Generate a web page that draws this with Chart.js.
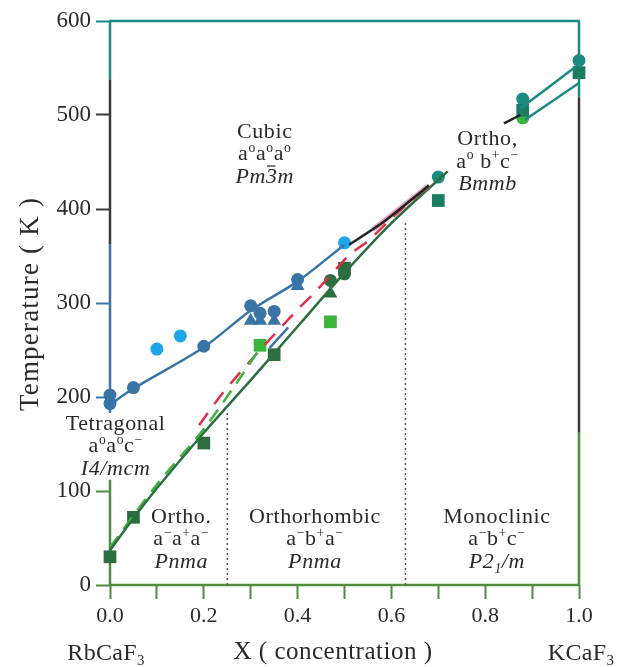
<!DOCTYPE html>
<html>
<head>
<meta charset="utf-8">
<script src="https://cdn.jsdelivr.net/npm/chart.js@4.4.1/dist/chart.umd.min.js"></script>
<style>
  body { margin: 0; background: #fff; }
  canvas { display: block; }
</style>
</head>
<body>
<canvas id="phaseChart" width="624" height="667"></canvas>
<script>
// measured points, X = K concentration, T = temperature (K)
const blueCircleX = [0, 0, 0.05, 0.2, 0.3, 0.32, 0.35, 0.4];
const blueCircleT = [193, 202, 210, 254, 297, 289, 291, 325];
const blueTriX = [0.3, 0.32, 0.35, 0.4];
const blueTriT = [281, 281, 281, 318];
const lightBlueX = [0.1, 0.15, 0.5];
const lightBlueT = [251, 265, 364];
const darkSqX = [0, 0.05, 0.2, 0.35, 0.5];
const darkSqT = [30, 72, 151, 245, 337];
const darkCircX = [0.47, 0.5];
const darkCircT = [324, 331];
const darkTriX = [0.47];
const darkTriT = [310];
const tealSqX = [0.7, 0.88, 1.0];
const tealSqT = [409, 505, 545];
const tealCircX = [0.7, 0.88, 1.0];
const tealCircT = [434, 517, 558];
const brightSqX = [0.32, 0.47];
const brightSqT = [255, 280];
const brightCircX = [0.88];
const brightCircT = [497];

// transition lines
const blueLineX = [0, 0.05, 0.2, 0.3, 0.4, 0.5];
const blueLineT = [192, 209, 253, 292, 323, 362];
const blueStubX = [0.34, 0.38];
const blueStubT = [252, 274];
const greenLineX = [0, 0.05, 0.1, 0.2, 0.3, 0.4, 0.5, 0.6, 0.72];
const greenLineT = [37, 71, 103, 162, 218, 275, 332, 385, 440];
const greenDashX = [0, 0.1, 0.2, 0.27, 0.32];
const greenDashT = [40, 107, 166, 215, 252];
const redDashX = [0.19, 0.24, 0.32, 0.4, 0.44, 0.51, 0.55, 0.6, 0.68];
const redDashT = [170, 204, 250, 293, 313, 351, 366, 390, 425];
const blackLineX = [0.51, 0.58, 0.68];
const blackLineT = [362, 385, 425];
const blackStubX = [0.84, 0.875];
const blackStubT = [491, 500];
const tealUpperX = [0.875, 1.0];
const tealUpperT = [507, 554];
const tealLowerX = [0.885, 1.0];
const tealLowerT = [495, 534];
const boundaryX = [0.25, 0.63];
const boundaryTopT = [183, 385];

const xTicks = [0, 0.2, 0.4, 0.6, 0.8, 1.0];
const yTicks = [0, 100, 200, 300, 400, 500, 600];

const BLUE = '#3a74a6';
const LIGHT_BLUE = '#1ea6e6';
const DARK_GREEN = '#2c6e40';
const AXIS_GREEN = '#4f8d3e';
const BRIGHT_GREEN = '#3cb53c';
const TEAL = '#1b8a80';
const RED = '#e0304a';
const GREY = '#3a3a3a';
const SERIF = '"Liberation Serif", "DejaVu Serif", serif';

function pts(xs, ts) {
  return xs.map((x, i) => ({ x: x, y: ts[i] }));
}

function markers(xs, ts, color, style, r) {
  return {
    data: pts(xs, ts), showLine: false, pointStyle: style,
    pointRadius: r, pointHoverRadius: r,
    backgroundColor: color, borderColor: color, borderWidth: 0, clip: false
  };
}

function line(xs, ts, color, width, dash, tension) {
  return {
    data: pts(xs, ts), showLine: true, pointRadius: 0,
    borderColor: color, borderWidth: width, borderDash: dash || [],
    tension: tension || 0, clip: false
  };
}

const datasets = [
  line(blueLineX, blueLineT, BLUE, 2.5, null, 0.3),
  line(blueStubX, blueStubT, BLUE, 2.5),
  line(blackLineX, blackLineT, '#222', 2.5, null, 0.2),
  line([0.56, 0.68], [378, 425], 'rgba(215,70,110,0.45)', 5),
  line(blackStubX, blackStubT, '#222', 2.5),
  line(greenLineX, greenLineT, DARK_GREEN, 2.5, null, 0.3),
  line(greenDashX, greenDashT, BRIGHT_GREEN, 2.5, [14, 9], 0.3),
  line(redDashX, redDashT, RED, 2.5, [15, 11], 0.3),
  line(tealUpperX, tealUpperT, TEAL, 2.5),
  line(tealLowerX, tealLowerT, TEAL, 2.5),
  line([boundaryX[0], boundaryX[0]], [0, boundaryTopT[0]], '#555', 1.5, [2, 3]),
  line([boundaryX[1], boundaryX[1]], [0, boundaryTopT[1]], '#555', 1.5, [2, 3]),
  markers(blueTriX, blueTriT, BLUE, 'triangle', 8),
  markers(blueCircleX, blueCircleT, BLUE, 'circle', 6.5),
  markers(lightBlueX, lightBlueT, LIGHT_BLUE, 'circle', 6.5),
  markers(darkSqX, darkSqT, DARK_GREEN, 'rect', 9),
  markers(darkTriX, darkTriT, DARK_GREEN, 'triangle', 8),
  markers(darkCircX, darkCircT, DARK_GREEN, 'circle', 6.5),
  markers(tealSqX, tealSqT, '#1b7c66', 'rect', 9),
  markers(tealCircX, tealCircT, TEAL, 'circle', 6.5),
  markers(brightSqX, brightSqT, BRIGHT_GREEN, 'rect', 9),
  markers(brightCircX, brightCircT, BRIGHT_GREEN, 'circle', 6.5)
];

// text with super/subscripts, centred at cx
function drawRich(ctx, parts, cx, cy, size, spacing) {
  const fontOf = (p) => (p.it ? 'italic ' : '') + ((p.sup || p.sub) ? size * 0.62 : size) + 'px ' + SERIF;
  ctx.letterSpacing = (spacing || 0) + 'px';
  let total = 0;
  parts.forEach(p => { ctx.font = fontOf(p); p.w = ctx.measureText(p.t).width; total += p.w; });
  let x = cx - total / 2;
  ctx.textBaseline = 'alphabetic';
  ctx.textAlign = 'left';
  parts.forEach(p => {
    ctx.font = fontOf(p);
    let y = cy;
    if (p.sup) y -= size * 0.38;
    if (p.sub) y += size * 0.22;
    ctx.fillText(p.t, x, y);
    if (p.bar) {
      ctx.fillRect(x + 1, cy - size * 0.78, p.w - 3, 1.2);
    }
    x += p.w;
  });
  ctx.letterSpacing = '0px';
}

const t = (s) => ({ t: s });
const sup = (s) => ({ t: s, sup: true });
const it = (s) => ({ t: s, it: true });

const phaseLabels = [
  { x: 0.33, y: 476, lines: [[t('Cubic')], [t('a'), sup('o'), t('a'), sup('o'), t('a'), sup('o')], [it('Pm'), { t: '3', it: true, bar: true }, it('m')]] },
  { x: 0.805, y: 468, lines: [[t('Ortho,')], [t('a'), sup('o'), t(' b'), sup('+'), t('c'), sup('\u2212')], [it('Bmmb')]] },
  { x: 0.012, y: 165, lines: [[t('Tetragonal')], [t('a'), sup('o'), t('a'), sup('o'), t('c'), sup('\u2212')], [it('I4/mcm')]] },
  { x: 0.152, y: 66, lines: [[t('Ortho.')], [t('a'), sup('\u2212'), t('a'), sup('+'), t('a'), sup('\u2212')], [it('Pnma')]] },
  { x: 0.437, y: 66, lines: [[t('Orthorhombic')], [t('a'), sup('\u2212'), t('b'), sup('+'), t('a'), sup('\u2212')], [it('Pnma')]] },
  { x: 0.825, y: 66, lines: [[t('Monoclinic')], [t('a'), sup('\u2212'), t('b'), sup('+'), t('c'), sup('\u2212')], [it('P2'), { t: '1', it: true, sub: true }, it('/m')]] }
];

// coloured frame segments: [from T, to T, colour]
const leftAxis = [[600, 538, TEAL], [538, 362, GREY], [362, 183, BLUE], [112, 0, AXIS_GREEN]];
const rightAxis = [[600, 519, TEAL], [519, 162, GREY], [162, 0, AXIS_GREEN]];

const framePlugin = {
  id: 'frame',
  beforeDatasetsDraw(chart) {
    const ctx = chart.ctx;
    const xs = chart.scales.x, ys = chart.scales.y;
    const a = chart.chartArea;
    ctx.save();
    ctx.lineWidth = 2.5;
    ctx.lineCap = 'butt';
    const seg = (x1, y1, x2, y2, c) => {
      ctx.strokeStyle = c; ctx.beginPath(); ctx.moveTo(x1, y1); ctx.lineTo(x2, y2); ctx.stroke();
    };
    seg(a.left - 1, a.top, a.right + 1, a.top, TEAL);
    seg(a.left - 1, a.bottom, a.right + 1, a.bottom, AXIS_GREEN);
    leftAxis.forEach(s => seg(a.left, ys.getPixelForValue(s[0]), a.left, ys.getPixelForValue(s[1]), s[2]));
    rightAxis.forEach(s => seg(a.right, ys.getPixelForValue(s[0]), a.right, ys.getPixelForValue(s[1]), s[2]));

    ctx.fillStyle = '#2a2a2a';
    phaseLabels.forEach(l => {
      const cx = xs.getPixelForValue(l.x);
      const cy = ys.getPixelForValue(l.y);
      l.lines.forEach((parts, i) => drawRich(ctx, parts.map(p => Object.assign({}, p)), cx, cy + i * 22.5, 22, 0.6));
    });

    // axis titles
    ctx.fillStyle = '#2a2a2a';
    ctx.font = '25px ' + SERIF;
    ctx.letterSpacing = '0.5px';
    ctx.textAlign = 'center';
    ctx.textBaseline = 'middle';
    ctx.fillText('X ( concentration )', 333, 652);
    drawRich(ctx, [t('RbCaF'), { t: '3', sub: true }], 106, 660, 24, 0.3);
    drawRich(ctx, [t('KCaF'), { t: '3', sub: true }], 581, 660, 24, 0.3);
    ctx.save();
    ctx.translate(31, 304);
    ctx.rotate(-Math.PI / 2);
    ctx.font = '27px ' + SERIF;
    ctx.letterSpacing = '1.2px';
    ctx.textAlign = 'center';
    ctx.textBaseline = 'middle';
    ctx.fillText('Temperature ( K )', 0, 0);
    ctx.restore();
    ctx.letterSpacing = '0px';
    ctx.restore();
  }
};

const yTickColor = (v) => v >= 550 ? TEAL : v >= 350 ? GREY : v >= 150 ? BLUE : AXIS_GREEN;

new Chart(document.getElementById('phaseChart').getContext('2d'), {
  type: 'scatter',
  data: { datasets: datasets },
  options: {
    responsive: false,
    animation: false,
    layout: { padding: { left: 0, right: 45, top: 21, bottom: 0 } },
    plugins: { legend: { display: false }, tooltip: { enabled: false } },
    scales: {
      x: {
        type: 'linear', min: 0, max: 1,
        afterFit: (s) => { s.height = 82; },
        border: { display: false },
        grid: { drawOnChartArea: false, drawTicks: true, tickLength: 14, tickWidth: 2, tickColor: AXIS_GREEN },
        ticks: {
          stepSize: 0.1, padding: 4, color: '#2a2a2a', maxRotation: 0, autoSkip: false,
          font: { family: SERIF, size: 22 },
          callback: (v) => xTicks.some(k => Math.abs(k - v) < 1e-6) ? v.toFixed(1) : ''
        }
      },
      y: {
        min: 0, max: 600,
        afterFit: (s) => { s.width = 110; },
        border: { display: false },
        grid: { drawOnChartArea: false, drawTicks: true, tickLength: 14, tickWidth: 2,
          tickColor: (c) => yTickColor(c.tick.value) },
        ticks: {
          stepSize: 100, padding: 5, color: '#2a2a2a',
          font: { family: SERIF, size: 23 },
          callback: (v) => yTicks.includes(v) ? String(v) : ''
        }
      }
    }
  },
  plugins: [framePlugin]
});
</script>
</body>
</html>
